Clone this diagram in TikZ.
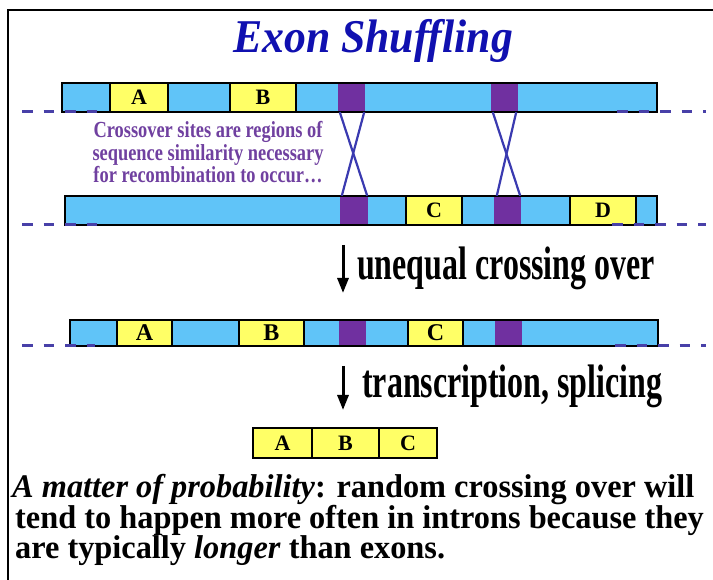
\documentclass[tikz,border=0pt]{standalone}
\usepackage{fontspec}
\setmainfont{Liberation Serif}
\newfontfamily\fttl[FakeStretch=0.93]{Liberation Serif}
\newfontfamily\fcross[FakeStretch=0.8]{Liberation Serif}
\newfontfamily\farw[FakeStretch=0.68]{Liberation Serif}
\newfontfamily\fbody[FakeStretch=0.98]{Liberation Serif}
\usetikzlibrary{arrows.meta}
\definecolor{barblue}{HTML}{60C4F8}
\definecolor{exyellow}{HTML}{FFFF66}
\definecolor{purp}{HTML}{7030A0}
\definecolor{xblue}{HTML}{3A3AB0}
\definecolor{dashblue}{HTML}{4840A8}
\definecolor{crosspurp}{HTML}{7040A0}
\definecolor{ttlblue}{HTML}{1010B0}
\tikzset{
  barfill/.style={fill=barblue, draw=none},
  barline/.style={draw=black, line width=2.5pt},
  exon/.style={draw=black, line width=2.5pt, fill=exyellow, inner sep=0pt,
    font=\fontsize{22}{22}\selectfont\bfseries},
  purpbox/.style={fill=purp, draw=none, inner sep=0pt},
  xline/.style={draw=xblue, line width=2.2pt},
  dashln/.style={draw=dashblue, line width=3pt, dash pattern=on 10.5pt off 11pt},
  downarrow/.style={draw=black, line width=3pt, -{Triangle[length=15pt,width=11pt]}},
  txt/.style={inner sep=0pt, anchor=base west},
}
\begin{document}
\begin{tikzpicture}[x=1pt,y=-1pt]
\useasboundingbox (0,0) rectangle (713,580);
\fill[white] (0,0) rectangle (713,580);
% frame
\draw[line width=2pt] (8,580) -- (8,10) -- (713,10);
% title
\node[txt, font=\fttl\fontsize{47}{47}\selectfont\bfseries\itshape, text=ttlblue] (title) at (233,53) {Exon Shuffling};

% ---------- strand 1 ----------
\fill[barfill] (62,83) rectangle (657,112);
\node[purpbox, minimum width=27pt, minimum height=29pt] (p1) at (351.5,97.5) {};
\node[purpbox, minimum width=27pt, minimum height=29pt] (p2) at (504.5,97.5) {};
\draw[barline] (62,83) rectangle (657,112);
\node[exon, minimum width=58pt, minimum height=29pt] (A1) at (139,97.5) {A};
\node[exon, minimum width=66pt, minimum height=29pt] (B1) at (263,97.5) {B};
\draw[dashln] (22,112) -- (100,112);
\draw[dashln] (617,112) -- (706,112);

% ---------- strand 2 ----------
\fill[barfill] (65,196) rectangle (657,225);
\node[purpbox, minimum width=28pt, minimum height=29pt] (q1) at (354,210.5) {};
\node[purpbox, minimum width=27pt, minimum height=29pt] (q2) at (507.5,210.5) {};
\draw[barline] (65,196) rectangle (657,225);
\node[exon, minimum width=56pt, minimum height=29pt] (C2) at (434,210.5) {C};
\node[exon, minimum width=66pt, minimum height=29pt] (D2) at (603,210.5) {D};
\draw[dashln] (22,225) -- (100,225);
\draw[dashln] (612,225) -- (706,225);

% crossover lines
\draw[xline] ([xshift=2pt]p1.south west) -- ([xshift=-1pt]q1.north east);
\draw[xline] ([xshift=-1pt]p1.south east) -- ([xshift=2pt]q1.north west);
\draw[xline] ([xshift=2pt]p2.south west) -- ([xshift=-1pt]q2.north east);
\draw[xline] ([xshift=-2pt]p2.south east) -- ([xshift=3pt]q2.north west);

% crossover text
\node[inner sep=0pt, anchor=base, font=\fcross\fontsize{23}{23}\selectfont\bfseries, text=crosspurp] (cs1) at (208,138) {Crossover sites are regions of};
\node[inner sep=0pt, anchor=base, font=\fcross\fontsize{23}{23}\selectfont\bfseries, text=crosspurp] (cs2) at (208,160.5) {sequence similarity necessary};
\node[inner sep=0pt, anchor=base, font=\fcross\fontsize{23}{23}\selectfont\bfseries, text=crosspurp] (cs3) at (208,183) {for recombination to occur…};

% arrow 1
\coordinate (a1s) at (343,245);
\coordinate (a1e) at (343,293);
\draw[downarrow] (a1s) -- (a1e);
\node[txt, font=\farw\fontsize{47}{47}\selectfont\bfseries] (l1) at (357,280) {unequal crossing over};

% ---------- strand 3 ----------
\fill[barfill] (70,320) rectangle (658,346);
\node[purpbox, minimum width=27pt, minimum height=26pt] (r1) at (352.5,333) {};
\node[purpbox, minimum width=27pt, minimum height=26pt] (r2) at (508.5,332) {};
\draw[barline] (70,320) rectangle (658,346);
\node[exon, minimum width=55pt, minimum height=26pt, font=\fontsize{24}{24}\selectfont\bfseries] (A3) at (144.5,333) {A};
\node[exon, minimum width=65pt, minimum height=26pt, font=\fontsize{24}{24}\selectfont\bfseries] (B3) at (271.5,333) {B};
\node[exon, minimum width=55pt, minimum height=26pt, font=\fontsize{24}{24}\selectfont\bfseries] (C3) at (435.5,333) {C};
\draw[dashln] (22,346) -- (95,346);
\draw[dashln] (615,346) -- (706,346);

% arrow 2
\coordinate (a2s) at (343,366);
\coordinate (a2e) at (343,410);
\draw[downarrow] (a2s) -- (a2e);
\node[txt, font=\farw\fontsize{47}{47}\selectfont\bfseries] (l2) at (362,398) {transcription, splicing};

% ---------- mRNA ----------
\node[exon, minimum width=59pt, minimum height=30pt] (Am) at (282.5,443) {A};
\node[exon, minimum width=67pt, minimum height=30pt] (Bm) at (345.5,443) {B};
\node[exon, minimum width=58pt, minimum height=30pt] (Cm) at (408,443) {C};

% ---------- bottom text ----------
\node[txt, font=\fbody\fontsize{33}{33}\selectfont\bfseries] (t1) at (12,497) {\textit{A matter of probability}: random crossing over will};
\node[txt, font=\fbody\fontsize{33}{33}\selectfont\bfseries] (t2) at (15,528) {tend to happen more often in introns because they};
\node[txt, font=\fbody\fontsize{33}{33}\selectfont\bfseries] (t3) at (15,558) {are typically \textit{longer} than exons.};
\end{tikzpicture}
\end{document}
